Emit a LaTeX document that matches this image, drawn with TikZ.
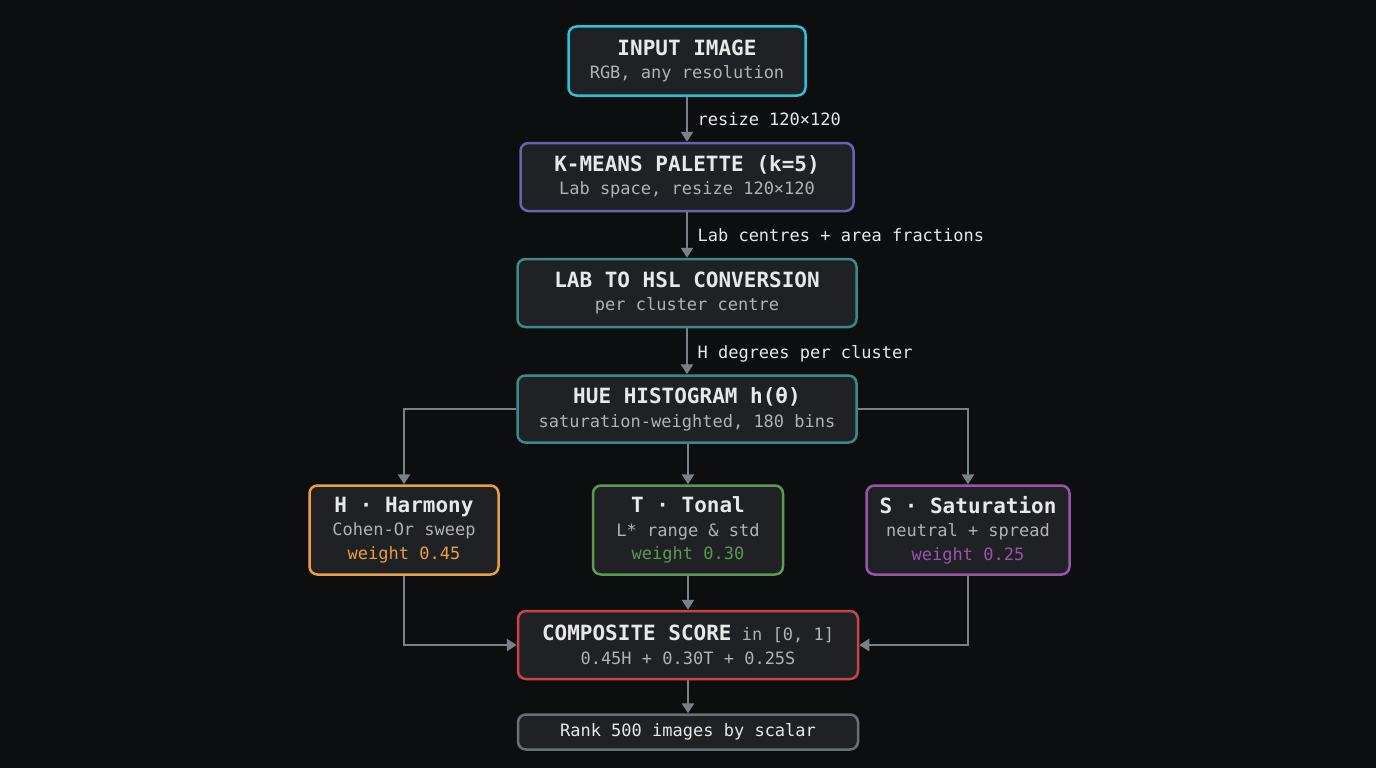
\documentclass[tikz,border=0pt]{standalone}
\usepackage{fontspec}
\setmonofont{DejaVu Sans Mono}
\usetikzlibrary{arrows.meta}
\definecolor{bg}{HTML}{0D0E10}
\definecolor{boxfill}{HTML}{1F2124}
\definecolor{cyanc}{HTML}{2CC3D6}
\definecolor{purpc}{HTML}{6E5FB0}
\definecolor{tealc}{HTML}{3D8A85}
\definecolor{orgc}{HTML}{E8A040}
\definecolor{grnc}{HTML}{5A9A55}
\definecolor{vioc}{HTML}{9A55A8}
\definecolor{redc}{HTML}{C94545}
\definecolor{grayc}{HTML}{6A7078}
\definecolor{arr}{HTML}{7A8088}
\definecolor{titc}{HTML}{E8E8E8}
\definecolor{subc}{HTML}{B0B2B6}
\tikzset{
 box/.style={draw, line width=2.5pt, fill=boxfill, rounded corners=8pt, inner sep=0pt, align=center, font=\ttfamily\fontsize{17}{23.5}\selectfont},
 conn/.style={draw=arr, line width=2.5pt, -{Triangle[length=10pt,width=12pt]}},
 elabel/.style={anchor=west, text=titc, font=\ttfamily\fontsize{17}{20}\selectfont},
}
\newcommand{\ttl}[1]{{\fontsize{21}{24}\selectfont\bfseries\color{titc}#1}}
\newcommand{\sbt}[1]{{\color{subc}#1}}
\begin{document}
\begin{tikzpicture}[x=1pt,y=-1pt]
\fill[bg] (0,0) rectangle (1376,768);
\useasboundingbox (0,0) rectangle (1376,768);
\node[box, draw=cyanc, minimum width=237pt, minimum height=69pt] (inp) at (687,61) {\ttl{INPUT IMAGE}\\\sbt{RGB, any resolution}};
\node[box, draw=purpc, minimum width=333pt, minimum height=68pt] (km) at (687,177) {\ttl{K-MEANS PALETTE (k=5)}\\\sbt{Lab space, resize 120×120}};
\node[box, draw=tealc, minimum width=339pt, minimum height=68pt] (lab) at (687,293) {\ttl{LAB TO HSL CONVERSION}\\\sbt{per cluster centre}};
\node[box, draw=tealc, minimum width=339pt, minimum height=67pt] (hue) at (687,409) {\ttl{HUE HISTOGRAM h(θ)}\\\sbt{saturation-weighted, 180 bins}};
\node[box, draw=orgc, minimum width=189pt, minimum height=89pt] (hh) at (404,530) {\ttl{H · Harmony}\\\sbt{Cohen-Or sweep}\\{\color{orgc}weight 0.45}};
\node[box, draw=grnc, minimum width=190pt, minimum height=89pt] (tt) at (688,530) {\ttl{T · Tonal}\\\sbt{L* range \& std}\\{\color{grnc}weight 0.30}};
\node[box, draw=vioc, minimum width=203pt, minimum height=89pt] (ss) at (968,530) {\ttl{S · Saturation}\\\sbt{neutral + spread}\\{\color{vioc}weight 0.25}};
\node[box, draw=redc, minimum width=340pt, minimum height=68pt] (comp) at (688,645) {\ttl{COMPOSITE SCORE} \sbt{in [0, 1]}\\\sbt{0.45H + 0.30T + 0.25S}};
\node[box, draw=grayc, minimum width=340pt, minimum height=35pt] (rank) at (688,732) {{\color{titc}Rank 500 images by scalar}};
\draw[conn] (inp) -- (km) node[pos=0.5, elabel, xshift=6pt] (l1) {resize 120×120};
\draw[conn] (km) -- (lab) node[pos=0.5, elabel, xshift=6pt] (l2) {Lab centres + area fractions};
\draw[conn] (lab) -- (hue) node[pos=0.55, elabel, xshift=6pt] (l3) {H degrees per cluster};
\draw[conn] (hue.west) -| (hh.north);
\draw[conn] (hue.east) -| (ss.north);
\draw[conn] (hue.south -| tt.north) -- (tt.north);
\draw[conn] (hh.south) |- (comp.west);
\draw[conn] (ss.south) |- (comp.east);
\draw[conn] (tt.south) -- (comp.north -| tt.south);
\draw[conn] (comp.south -| rank.north) -- (rank.north);
\end{tikzpicture}
\end{document}
